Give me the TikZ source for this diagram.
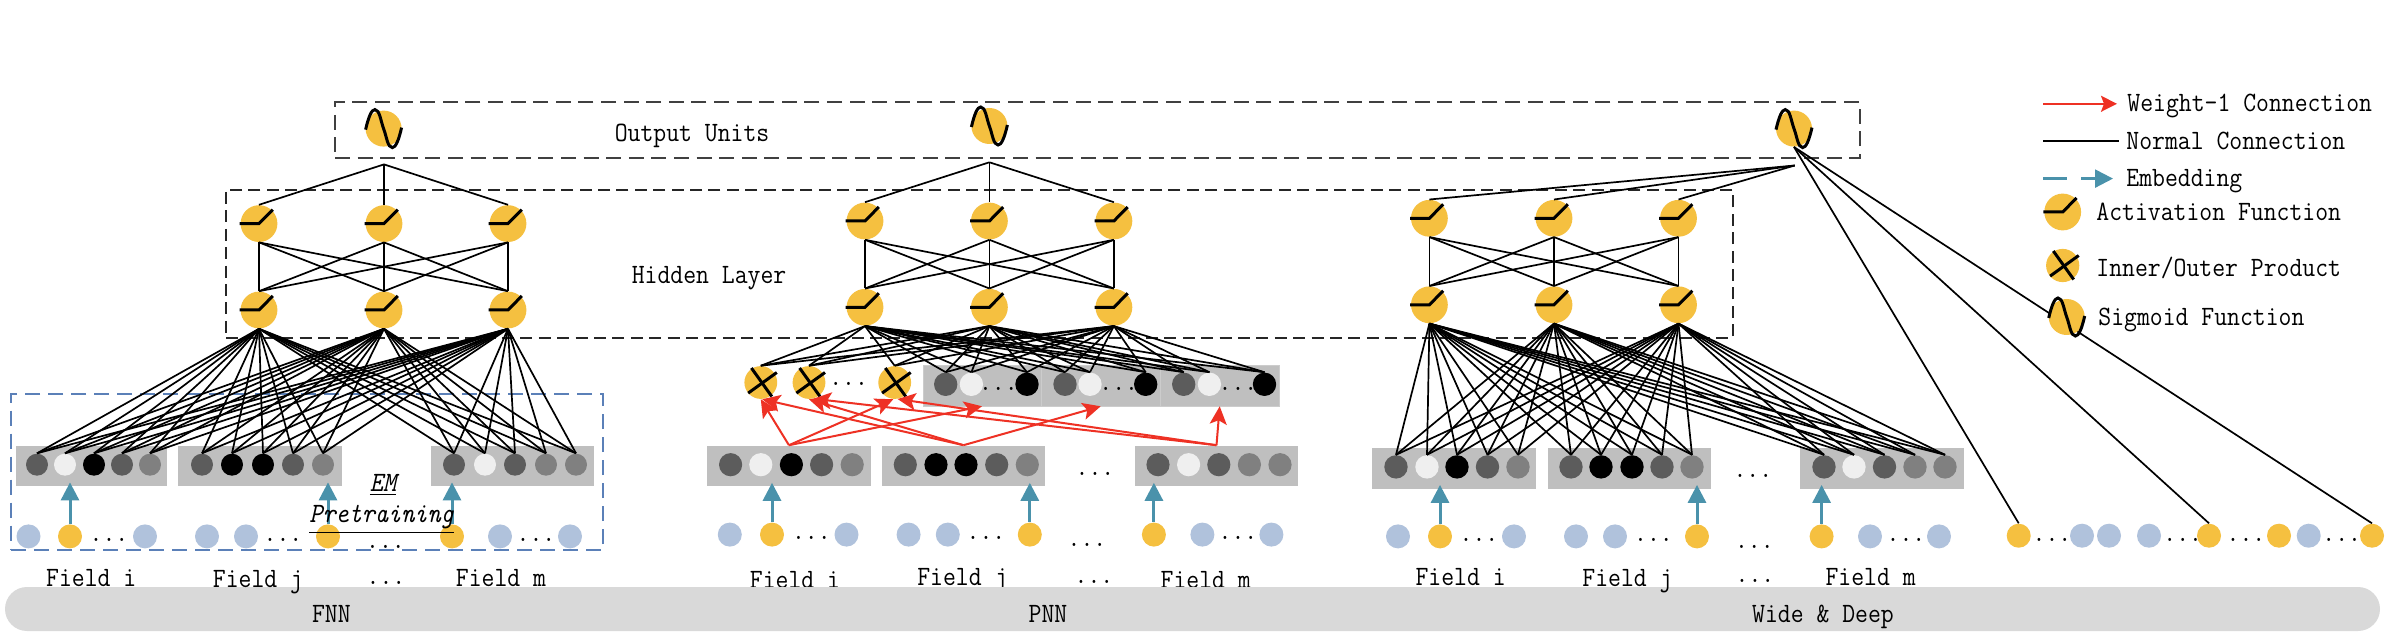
\documentclass[tikz,border=0pt]{standalone}
\usetikzlibrary{arrows.meta,fit,positioning}
\definecolor{dk}{HTML}{5C5C5C}
\definecolor{lt}{HTML}{EFEFEF}
\definecolor{bk}{HTML}{000000}
\definecolor{mdg}{HTML}{808080}
\definecolor{yw}{HTML}{F5C040}
\definecolor{bl}{HTML}{B0C2DC}
\definecolor{tealc}{HTML}{4A92AB}
\definecolor{redc}{HTML}{EE3124}
\definecolor{bandc}{HTML}{D9D9D9}
\definecolor{grayb}{HTML}{BFBFBF}
\definecolor{blueb}{HTML}{5B80B8}
\definecolor{dashc}{HTML}{404040}
\tikzset{
  pt/.style={circle,inner sep=0pt,draw=none},
  act/.style={pt,fill=yw,minimum size=18.4pt},
  grayr/.style={rectangle,inner sep=0pt,fill=grayb},
  obox/.style={rectangle,inner sep=0pt,draw=dashc,line width=1pt,dash pattern=on 7.5pt off 3.8pt},
  dbox/.style={rectangle,inner sep=0pt,draw=black!85,line width=1pt,dash pattern=on 6pt off 3.2pt},
  bbox/.style={rectangle,inner sep=0pt,draw=blueb,line width=1pt,dash pattern=on 7.5pt off 4pt},
  bandn/.style={rectangle,inner sep=0pt,fill=bandc,rounded corners=11pt},
  txt/.style={inner sep=0pt,anchor=base,font=\fontsize{12.5}{14}\selectfont\ttfamily},
  txtw/.style={txt,anchor=base west},
  conn/.style={black,line width=0.85pt},
  emb/.style={tealc,line width=1.5pt,-{Triangle[length=9pt,width=9pt]}},
  wt/.style={redc,line width=1pt,-{Stealth[length=9pt,width=8.5pt,inset=2pt]}},
  mk/.style={black,line width=1.5pt,line join=miter},
}
\newcommand\lbl[1]{\scalebox{1}[1.12]{#1}}
\newcommand\rampmk[1]{\draw[mk] ([shift={(-19.4,0)}]#1.center) -- (#1.center) -- ([shift={(13.8,-14)}]#1.center);}
\newcommand\crossmk[1]{\draw[mk] ([shift={(-9.4,-14.5)}]#1.center) -- ([shift={(11,14)}]#1.center);
  \draw[mk] ([shift={(16,-10)}]#1.center) -- ([shift={(-12.6,10.6)}]#1.center);}
\newcommand\sigmk[1]{\draw[mk] ([shift={(-18,1)}]#1.center) .. controls ([shift={(-15,-12)}]#1.center) and ([shift={(-12,-19)}]#1.center) .. ([shift={(-8.7,-19)}]#1.center)
  .. controls ([shift={(-4,-19)}]#1.center) and ([shift={(-3,-8)}]#1.center) .. (#1.center)
  .. controls ([shift={(3,8)}]#1.center) and ([shift={(4,19)}]#1.center) .. ([shift={(8.7,19)}]#1.center)
  .. controls ([shift={(12,19)}]#1.center) and ([shift={(15,12)}]#1.center) .. ([shift={(18,-1)}]#1.center);}
% prefix, y, diameter in pt, list x/colour
\newcommand\ptrow[4]{\foreach \px/\pc [count=\pi] in {#4} {\node[pt,minimum size=#3pt,fill=\pc] (#1\pi) at (\px,#2) {};}}
% hidden layers: prefix, x1,x2,x3, yupper, ylower
\newcommand\hidden[6]{%
  \node[act] (#1u1) at (#2,#5) {}; \node[act] (#1u2) at (#3,#5) {}; \node[act] (#1u3) at (#4,#5) {};
  \node[act] (#1l1) at (#2,#6) {}; \node[act] (#1l2) at (#3,#6) {}; \node[act] (#1l3) at (#4,#6) {};
  \foreach \ha in {1,2,3} {\foreach \hb in {1,2,3} {\draw[conn] (#1u\ha.south) -- (#1l\hb.north);}
    \rampmk{#1u\ha} \rampmk{#1l\ha}}
  \foreach \ha in {1,2,3} {\draw[conn] (#1j) -- (#1u\ha.north);}
}
\begin{document}
\begin{tikzpicture}[x=0.5pt,y=-0.5pt]
\fill[white] (0,0) rectangle (2390,636);
\useasboundingbox (0,0) rectangle (2390,636);
% PNN labels lie under the band
\node[txt] (plb1) at (795,588) {\lbl{Field i}};
\node[txt] (plb2) at (962.4,585.5) {\lbl{Field j}};
\node[txt] (plb3) at (1094,583) {\lbl{...}};
\node[txt] (plb4) at (1205.7,588) {\lbl{Field m}};
% band
\node[bandn,fit={(5,587) (2380,631)}] (band) {};
\node[txt] (t1) at (331.4,622) {\lbl{FNN}};
\node[txt] (t2) at (1048,622) {\lbl{PNN}};
\node[txt] (t3) at (1823,622) {\lbl{Wide \& Deep}};
% dashed layers
\node[obox,fit={(335,102) (1860,158)}] (outbox) {};
\node[dbox,fit={(226,189.6) (1733,338)}] (hidbox) {};
\node[bbox,fit={(11,393.8) (603,550)}] (embox) {};
\node[txt] (t4) at (692,141.5) {\lbl{Output Units}};
\node[txt] (t5) at (709,283.5) {\lbl{Hidden Layer}};
% ---------- FNN
\node[grayr,fit={(16,446) (167,486)}] (fr1) {};
\node[grayr,fit={(178,446) (342,486)}] (fr2) {};
\node[grayr,fit={(431,446) (594,486)}] (fr3) {};
\ptrow{fe}{464.7}{11}{37/dk,65/lt,94/bk,122/dk,150/mdg,202/dk,232/bk,263/bk,293/dk,323/mdg,454/dk,485/lt,515/dk,546/mdg,576/mdg}
\ptrow{fi}{536.4}{12}{28.5/bl,70/yw,145/bl,207/bl,246/bl,328/yw,452/yw,500/bl,570/bl}
\node[pt,fill=yw,minimum size=18pt] (fo) at (383.6,128.6) {};
\coordinate (fj) at (384,164.4);
\hidden{f}{259}{384}{508}{223.6}{310}
\sigmk{fo}
\foreach \s in {1,2,3} {\foreach \t in {1,...,15} {\draw[conn] (fl\s.south) -- (fe\t.north);}}
\draw[emb,shorten >=-2pt] (fi2.north) -- (fi2.north |- fr1.south);
\draw[emb,shorten >=-2pt] (fi6.north) -- (fi6.north |- fr2.south);
\draw[emb,shorten >=-2pt] (fi7.north) -- (fi7.north |- fr3.south);
\node[txt] (d1) at (109,541.6) {\lbl{...}};
\node[txt] (d2) at (283,541.6) {\lbl{...}};
\node[txt] (d3) at (385.5,548) {\lbl{...}};
\node[txt] (d4) at (536,541.6) {\lbl{...}};
\node[txt] (l1) at (91.3,586) {\lbl{Field i}};
\node[txt] (l2) at (258,587) {\lbl{Field j}};
\node[txt] (l3) at (386,584) {\lbl{...}};
\node[txt] (l4) at (501,586) {\lbl{Field m}};
\node[txt] (em1) at (383,491.5) {\lbl{\underline{\itshape EM}}};
\node[txt] (em2) at (381.6,522.5) {\lbl{\underline{\itshape Pretraining}}};
% ---------- PNN
\node[grayr,fit={(707.3,445.6) (870.6,486.4)}] (pr1) {};
\node[grayr,fit={(882,445.6) (1045,486.4)}] (pr2) {};
\node[grayr,fit={(1135,445.6) (1298,486.4)}] (pr3) {};
\node[grayr,draw=black!20,line width=0.3pt,fit={(923,365.8) (1041,406)}] (ptr1) {};
\node[grayr,draw=black!20,line width=0.3pt,fit={(1041,365.8) (1160.4,406)}] (ptr2) {};
\node[grayr,draw=black!20,line width=0.3pt,fit={(1160.4,365.8) (1279,406)}] (ptr3) {};
\ptrow{pe}{464.7}{11.6}{730.6/dk,760.8/lt,791.4/bk,821.6/dk,852.2/mdg,905.3/dk,936/bk,966/bk,996.7/dk,1027.3/mdg,1158/dk,1188.6/lt,1218.8/dk,1249.4/mdg,1280/mdg}
\ptrow{pi}{534.6}{12}{729.8/bl,772/yw,846.5/bl,908.6/bl,947.8/bl,1029.8/yw,1153.9/yw,1202.4/bl,1271.4/bl}
\ptrow{pc}{382.5}{16.4}{760.8/yw,809/yw,894.7/yw}
\ptrow{pt}{384.3}{11.7}{945.7/dk,971.4/lt,1027/bk,1065/dk,1090/lt,1145.7/bk,1183.7/dk,1209.4/lt,1264.5/bk}
\node[pt,fill=yw,minimum size=18pt] (po) at (989.4,126) {};
\coordinate (pj) at (989.4,162.3);
\hidden{p}{865}{989.4}{1113.9}{221}{307.3}
\sigmk{po}
\foreach \s in {1,2,3} {\foreach \t in {1,2,3} {\draw[conn] (pl\s.south) -- (pc\t.north);}
  \foreach \t in {1,...,9} {\draw[conn] (pl\s.south) -- (pt\t.north);}}
\foreach \t in {1,2,3} {\crossmk{pc\t}}
\draw[emb,shorten >=-2pt] (pi2.north) -- (pi2.north |- pr1.south);
\draw[emb,shorten >=-2pt] (pi6.north) -- (pi6.north |- pr2.south);
\draw[emb,shorten >=-2pt] (pi7.north) -- (pi7.north |- pr3.south);
\coordinate (ra) at (pr1.north);
\coordinate (rb) at (pr2.north);
\coordinate (rc) at (pr3.north);
\draw[wt] (ra) -- (pc1.south);
\draw[wt] (ra) -- (pc3.-95);
\draw[wt] (ra) -- (ptr1.south);
\draw[wt] (rb) -- (pc1.-85);
\draw[wt] (rb) -- (pc2.-90);
\draw[wt] (rb) -- (ptr2.south);
\draw[wt] (rc) -- (pc2.-75);
\draw[wt] (rc) -- (pc3.-80);
\draw[wt] (rc) -- (ptr3.south);
\node[txt] (d5) at (848.6,386) {\lbl{...}};
\node[txt] (d6) at (998.4,391) {\lbl{...}};
\node[txt] (d7) at (1118.8,391) {\lbl{...}};
\node[txt] (d8) at (1238,391) {\lbl{...}};
\node[txt] (d9) at (811.4,539.5) {\lbl{...}};
\node[txt] (d10) at (986,539.5) {\lbl{...}};
\node[txt] (d11) at (1087,546.5) {\lbl{...}};
\node[txt] (d12) at (1238,539.5) {\lbl{...}};
\node[txt] (d13) at (1095,475) {\lbl{...}};
% ---------- Wide & Deep
\node[grayr,fit={(1372,447.7) (1536,488.5)}] (wr1) {};
\node[grayr,fit={(1548,447.7) (1711,488.5)}] (wr2) {};
\node[grayr,fit={(1800,447.7) (1964,488.5)}] (wr3) {};
\ptrow{we}{466.9}{11.7}{1396/dk,1427/lt,1457/bk,1487.5/dk,1518/mdg,1571/dk,1601/bk,1632/bk,1662/dk,1692/mdg,1824/dk,1854/lt,1884.5/dk,1915/mdg,1945/mdg}
\ptrow{wi}{536.4}{12}{1398/bl,1440/yw,1514/bl,1576/bl,1615/bl,1697/yw,1821.6/yw,1870/bl,1939/bl}
\ptrow{xi}{535.7}{12}{2018.7/yw,2082/bl,2109/bl,2149/bl,2209/yw,2279/yw,2308.7/bl,2372/yw}
\node[pt,fill=yw,minimum size=18pt] (wo) at (1794,128.6) {};
\coordinate (wj) at (1794.7,165.5);
\hidden{w}{1429.4}{1554}{1678.5}{218.3}{304.8}
\sigmk{wo}
\foreach \s in {1,2,3} {\foreach \t in {1,...,15} {\draw[conn] (wl\s.south) -- (we\t.north);}}
\draw[conn] (wo.south) -- (xi1.north);
\draw[conn] (wo.south) -- (xi5.north);
\draw[conn] (wo.south) -- (xi8.north);
\draw[emb,shorten >=-2pt] (wi2.north) -- (wi2.north |- wr1.south);
\draw[emb,shorten >=-2pt] (wi6.north) -- (wi6.north |- wr2.south);
\draw[emb,shorten >=-2pt] (wi7.north) -- (wi7.north |- wr3.south);
\node[txt] (d14) at (1479,541.6) {\lbl{...}};
\node[txt] (d15) at (1653.5,541.6) {\lbl{...}};
\node[txt] (d16) at (1754.4,548) {\lbl{...}};
\node[txt] (d17) at (1906,541.6) {\lbl{...}};
\node[txt] (d18) at (1752.8,477.5) {\lbl{...}};
\node[txt] (d19) at (2052,541) {\lbl{...}};
\node[txt] (d20) at (2182.7,541) {\lbl{...}};
\node[txt] (d21) at (2246,541) {\lbl{...}};
\node[txt] (d22) at (2341.7,541) {\lbl{...}};
\node[txt] (l5) at (1460.6,585) {\lbl{Field i}};
\node[txt] (l6) at (1627.5,586) {\lbl{Field j}};
\node[txt] (l7) at (1755,582) {\lbl{...}};
\node[txt] (l8) at (1870.6,585) {\lbl{Field m}};
% ---------- Legend
\coordinate (la1) at (2043,103.8); \coordinate (la2) at (2117,103.8);
\coordinate (lb1) at (2043,141); \coordinate (lb2) at (2119,141);
\coordinate (lc1) at (2043,178.6); \coordinate (lc2) at (2067,178.6);
\coordinate (lc3) at (2081,178.6); \coordinate (lc4) at (2113,178.6);
\draw[redc,line width=0.9pt,-{Stealth[length=8pt,width=8pt,inset=1.5pt]}] (la1) -- (la2);
\draw[conn] (lb1) -- (lb2);
\draw[tealc,line width=1.2pt] (lc1) -- (lc2);
\draw[emb,line width=1.2pt] (lc3) -- (lc4);
\node[txtw] (g1) at (2127,112) {\lbl{Weight-1 Connection}};
\node[txtw] (g2) at (2126,149.5) {\lbl{Normal Connection}};
\node[txtw] (g3) at (2126,187) {\lbl{Embedding}};
\node[txtw] (g4) at (2096,221) {\lbl{Activation Function}};
\node[txtw] (g5) at (2096,276.5) {\lbl{Inner/Outer Product}};
\node[txtw] (g6) at (2098,325.6) {\lbl{Sigmoid Function}};
\node[act] (ga) at (2062.7,212) {};
\rampmk{ga}
\node[pt,fill=yw,minimum size=16.6pt] (gb) at (2062.7,265.5) {};
\crossmk{gb}
\node[pt,fill=yw,minimum size=18pt] (gc) at (2066.7,317) {};
\sigmk{gc}
\end{tikzpicture}
\end{document}
